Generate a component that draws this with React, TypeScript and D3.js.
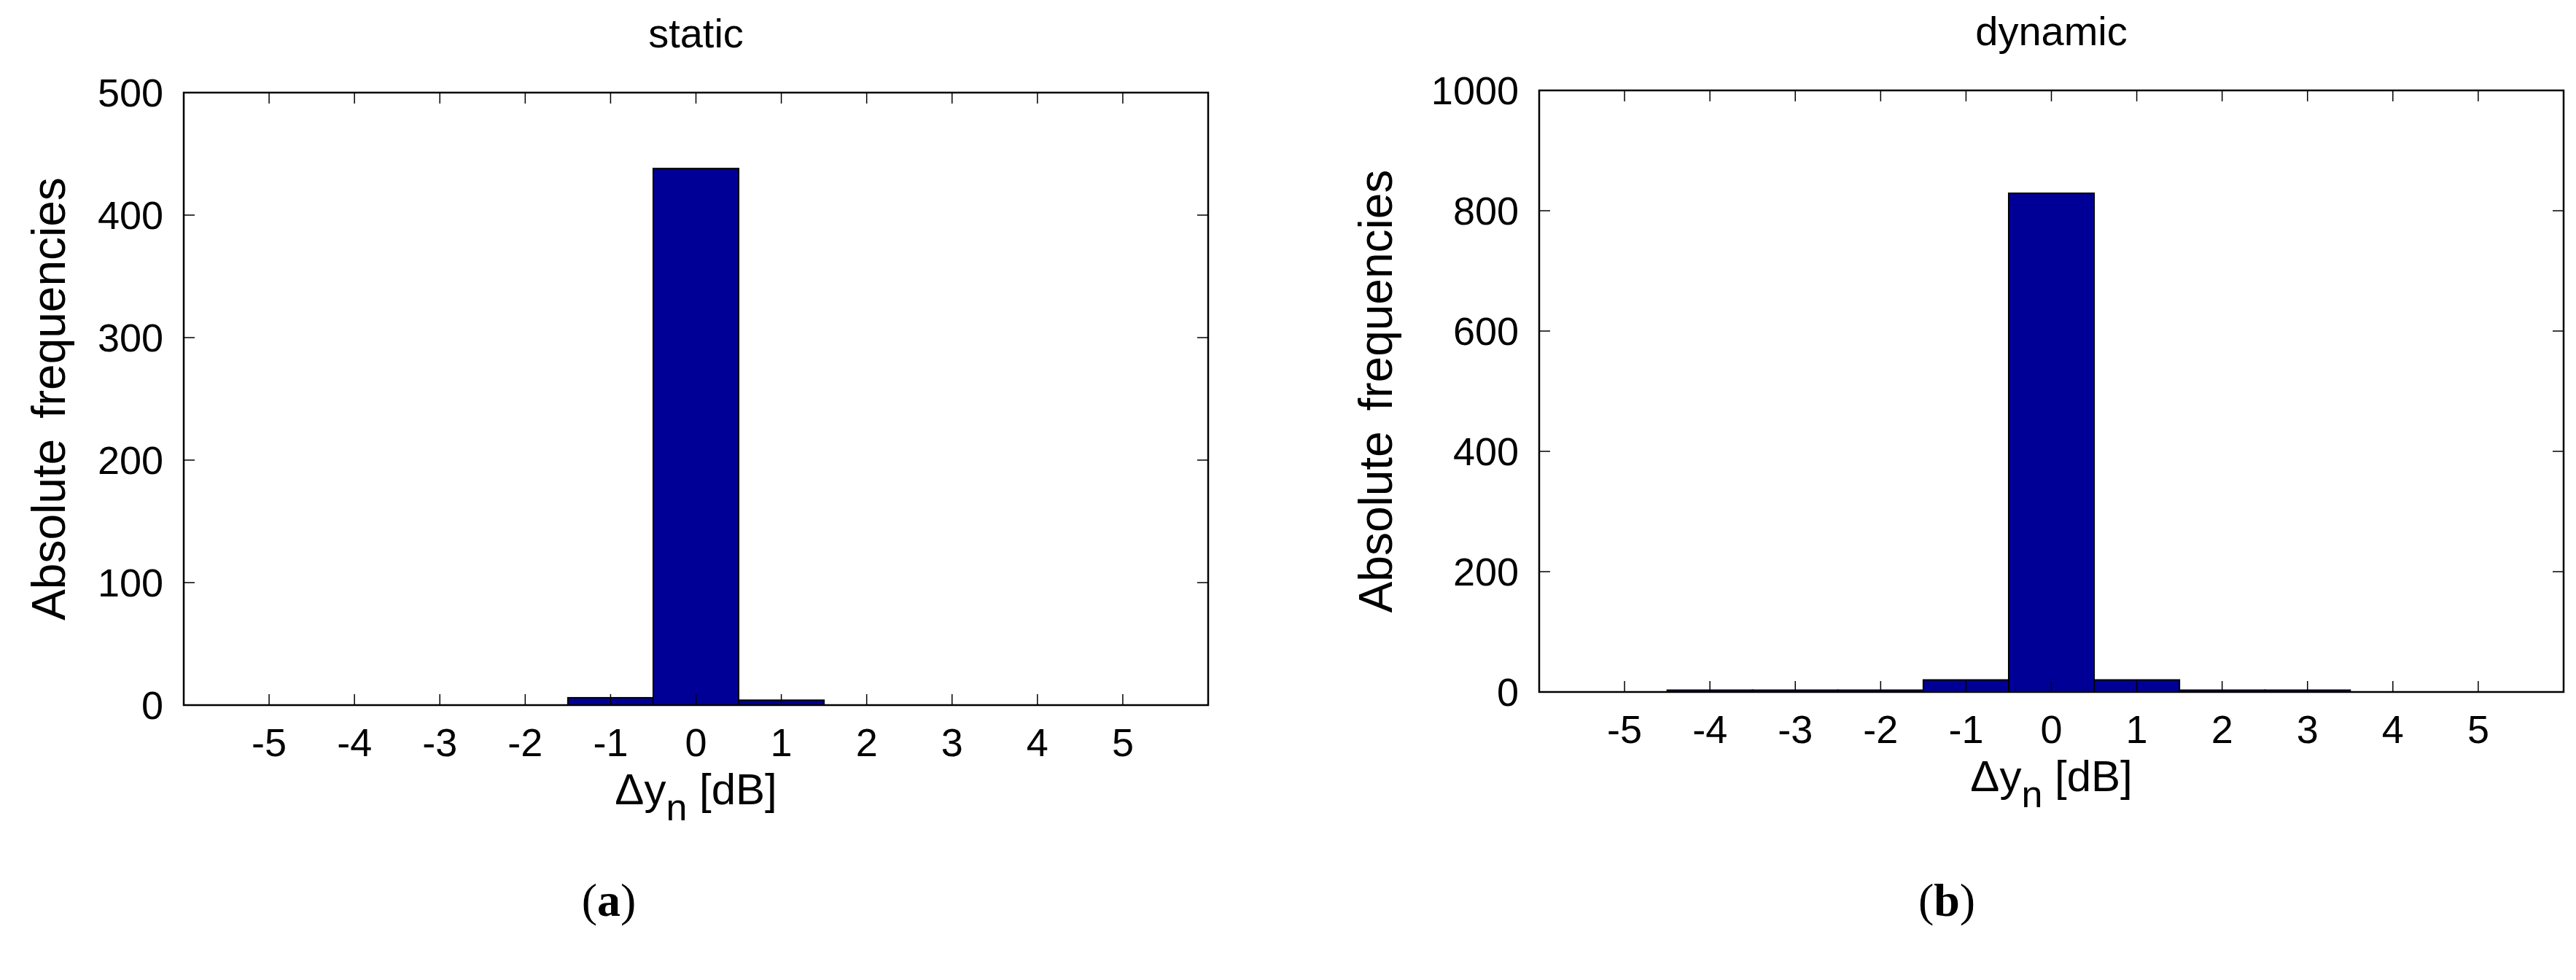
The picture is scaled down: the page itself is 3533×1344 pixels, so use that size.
import React, { useEffect, useRef } from 'react';
import * as d3 from 'd3';

// histogram bin centres (dB)
const binCenters = [-5, -4, -3, -2, -1, 0, 1, 2, 3, 4, 5];
const staticCounts = [0, 0, 0, 0, 6, 438, 4, 0, 0, 0, 0];
const dynamicCounts = [0, 3, 3, 3, 20, 829, 20, 3, 3, 0, 0];
const xTicks = [-5, -4, -3, -2, -1, 0, 1, 2, 3, 4, 5];
const staticYTicks = [0, 100, 200, 300, 400, 500];
const dynamicYTicks = [0, 200, 400, 600, 800, 1000];

const W = 3533;
const H = 1344;
const FONT = '"Liberation Sans", Arial, sans-serif';

function drawPanel(svg, opts) {
  const { left, right, top, bottom, counts, yTicks, yMax, title, yLabelX, tag, tagX } = opts;

  const x = d3.scaleLinear().domain([-6, 6]).range([left, right]);
  const y = d3.scaleLinear().domain([0, yMax]).range([bottom, top]);

  const g = svg.append('g');

  const bins = binCenters.map((c, i) => ({ c, n: counts[i] })).filter(d => d.n > 0);

  g.selectAll('rect.bar')
    .data(bins)
    .enter()
    .append('rect')
    .attr('class', 'bar')
    .attr('x', d => x(d.c - 0.5))
    .attr('width', d => x(d.c + 0.5) - x(d.c - 0.5))
    .attr('y', d => y(d.n))
    .attr('height', d => y(0) - y(d.n))
    .attr('fill', '#000096')
    .attr('stroke', '#000')
    .attr('stroke-width', 2);

  const tickLen = 15;

  // x ticks, bottom and top, pointing in
  xTicks.forEach(t => {
    g.append('line')
      .attr('x1', x(t)).attr('x2', x(t))
      .attr('y1', bottom).attr('y2', bottom - tickLen)
      .attr('stroke', '#000').attr('stroke-width', 1.5);
    g.append('line')
      .attr('x1', x(t)).attr('x2', x(t))
      .attr('y1', top).attr('y2', top + tickLen)
      .attr('stroke', '#000').attr('stroke-width', 1.5);
  });

  // y ticks, left and right
  yTicks.forEach(t => {
    g.append('line')
      .attr('x1', left).attr('x2', left + tickLen)
      .attr('y1', y(t)).attr('y2', y(t))
      .attr('stroke', '#000').attr('stroke-width', 1.5);
    g.append('line')
      .attr('x1', right).attr('x2', right - tickLen)
      .attr('y1', y(t)).attr('y2', y(t))
      .attr('stroke', '#000').attr('stroke-width', 1.5);
  });

  g.append('rect')
    .attr('x', left).attr('y', top)
    .attr('width', right - left).attr('height', bottom - top)
    .attr('fill', 'none')
    .attr('stroke', '#000')
    .attr('stroke-width', 2.5);

  g.selectAll('text.xt')
    .data(xTicks)
    .enter()
    .append('text')
    .attr('class', 'xt')
    .attr('x', d => x(d))
    .attr('y', bottom + 70)
    .attr('text-anchor', 'middle')
    .attr('font-family', FONT)
    .attr('font-size', 54)
    .text(d => d);

  g.selectAll('text.yt')
    .data(yTicks)
    .enter()
    .append('text')
    .attr('class', 'yt')
    .attr('x', left - 28)
    .attr('y', d => y(d))
    .attr('dy', '0.36em')
    .attr('text-anchor', 'end')
    .attr('font-family', FONT)
    .attr('font-size', 54)
    .text(d => d);

  g.append('text')
    .attr('x', (left + right) / 2)
    .attr('y', top - 62)
    .attr('text-anchor', 'middle')
    .attr('font-family', FONT)
    .attr('font-size', 56)
    .text(title);

  g.append('text')
    .attr('transform', `translate(${yLabelX},${(top + bottom) / 2})rotate(-90)`)
    .attr('dy', '0.36em')
    .attr('text-anchor', 'middle')
    .attr('font-family', FONT)
    .attr('font-size', 64)
    .attr('word-spacing', 10)
    .text('Absolute frequencies');

  const xl = g.append('text')
    .attr('x', (left + right) / 2)
    .attr('y', bottom + 136)
    .attr('text-anchor', 'middle')
    .attr('font-family', FONT)
    .attr('font-size', 60);
  xl.append('tspan').text('\u0394y');
  xl.append('tspan').attr('dy', 22).attr('font-size', 52).text('n');
  xl.append('tspan').attr('dy', -22).text(' [dB]');

  const cap = g.append('text')
    .attr('x', tagX)
    .attr('y', 1256)
    .attr('text-anchor', 'middle')
    .attr('font-family', '"Liberation Serif", "DejaVu Serif", serif')
    .attr('font-size', 64);
  cap.append('tspan').text('(');
  cap.append('tspan').attr('font-weight', 'bold').text(tag);
  cap.append('tspan').text(')');
}

function App() {
  const svgRef = useRef(null);

  useEffect(() => {
    const svg = d3.select(svgRef.current);
    svg.selectAll('*').remove();

    drawPanel(svg, {
      left: 252, right: 1657, top: 127, bottom: 967,
      counts: staticCounts, yTicks: staticYTicks, yMax: 500,
      title: 'static', yLabelX: 66, tag: 'a', tagX: 835
    });

    drawPanel(svg, {
      left: 2111, right: 3516, top: 124, bottom: 949,
      counts: dynamicCounts, yTicks: dynamicYTicks, yMax: 1000,
      title: 'dynamic', yLabelX: 1886, tag: 'b', tagX: 2670
    });
  }, []);

  return (
    <svg
      ref={svgRef}
      width={W}
      height={H}
      style={{ position: 'absolute', left: 0, top: 0, background: '#fff' }}
    />
  );
}

export default App;
